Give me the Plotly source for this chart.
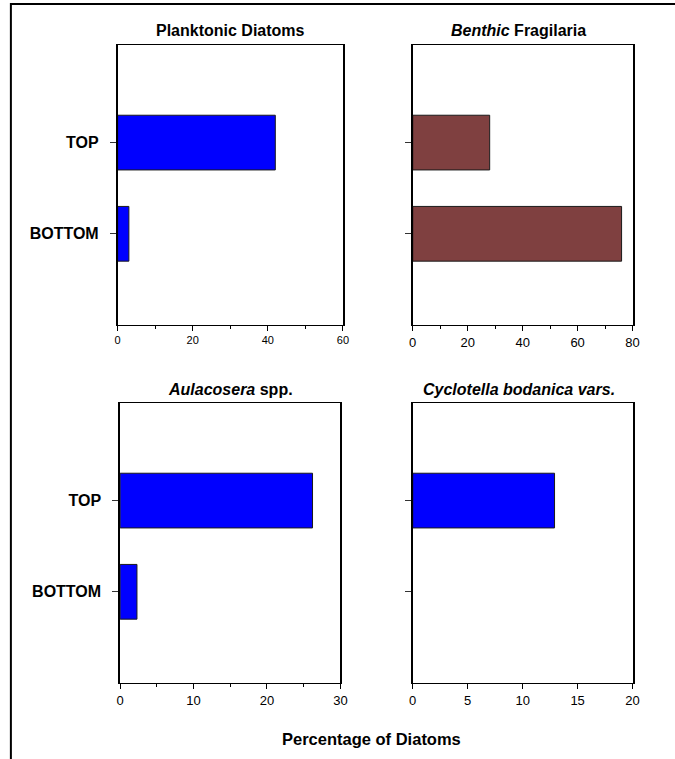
import plotly.graph_objects as go

# Sample depths and diatom percentages per group
depths = ["BOTTOM", "TOP"]
planktonic = [3, 42]
benthic_fragilaria = [76, 28]
aulacosera = [2.3, 26.2]
cyclotella = [0, 12.9]

panel_titles = [
    "Planktonic Diatoms",
    "<i>Benthic</i> Fragilaria",
    "<i>Aulacosera</i> spp.",
    "<i>Cyclotella bodanica vars.</i>",
]
x_ranges = [[0, 60], [0, 80], [0, 30], [0, 20]]
x_dticks = [20, 20, 10, 5]
x_minor = [10, 10, 5, None]
x_axis_title = "Percentage of Diatoms"

FONT = "Liberation Sans, Arial, sans-serif"
W, H = 675, 759

series = [planktonic, benthic_fragilaria, aulacosera, cyclotella]
colors = ["#0000FF", "#7F4040", "#0000FF", "#0000FF"]

# Panel boxes in pixels: (left, right, top, bottom)
boxes = [
    (115.5, 344.5, 45, 325),
    (415.5, 639.0, 45, 325),
    (118.0, 342.0, 403, 683),
    (415.5, 639.0, 403, 683),
]

fig = go.Figure()

for i, (vals, col) in enumerate(zip(series, colors)):
    n = i + 1
    xa = "x" if n == 1 else f"x{n}"
    ya = "y" if n == 1 else f"y{n}"
    # no outline on empty bars so a zero value leaves no sliver
    outline_w = [1 if v > 0 else 0 for v in vals]
    fig.add_trace(go.Bar(
        x=vals, y=depths, orientation="h", width=0.6,
        marker=dict(color=col, line=dict(color="#1a1a1a", width=outline_w)),
        xaxis=xa, yaxis=ya, showlegend=False, hoverinfo="x+y",
    ))

    l, r, t, b = boxes[i]
    xkey = "xaxis" if n == 1 else f"xaxis{n}"
    ykey = "yaxis" if n == 1 else f"yaxis{n}"
    tick_size = 11 if i == 0 else 13
    minor = dict(dtick=x_minor[i], ticks="outside", ticklen=3,
                 tickcolor="#000", tickwidth=1) if x_minor[i] else None
    xax = dict(
        domain=[l / W, r / W], anchor=ya, range=x_ranges[i],
        dtick=x_dticks[i], tick0=0, ticks="outside", ticklen=5,
        tickcolor="#000", tickwidth=1,
        showline=True, linecolor="#000", linewidth=1, mirror=True,
        showgrid=False, zeroline=False,
        tickfont=dict(family=FONT, size=tick_size, color="#000"),
    )
    if minor:
        xax["minor"] = minor
    fig.layout[xkey] = xax
    fig.layout[ykey] = dict(
        domain=[1 - b / H, 1 - t / H], anchor=xa,
        type="category", categoryorder="array", categoryarray=depths,
        range=[-1.0, 2.07],
        ticks="outside", ticklen=6, tickcolor="#333", tickwidth=1,
        showticklabels=(i % 2 == 0),
        showline=True, linecolor="#000", linewidth=1.5, mirror=True,
        showgrid=False, zeroline=False,
        tickfont=dict(family=FONT, size=16, color="#000", weight="bold"),
        ticklabelstandoff=8,
    )

    fig.add_annotation(
        x=(l + r) / 2 / W - (0.006 if i % 2 else 0), y=1 - (t - 14) / H,
        xref="paper", yref="paper", xanchor="center", yanchor="middle",
        text=f"<b>{panel_titles[i]}</b>", showarrow=False,
        font=dict(family=FONT, size=16, color="#000"),
    )

fig.add_annotation(
    x=374 / W, y=1 - 739 / H, xref="paper", yref="paper",
    xanchor="center", yanchor="middle", text=f"<b>{x_axis_title}</b>",
    showarrow=False, font=dict(family=FONT, size=16.5, color="#000"),
)

# Outer frame around the whole figure
fig.add_shape(type="rect", xref="paper", yref="paper",
              x0=7 / W, x1=1.05, y0=-0.05, y1=1 - 4 / H,
              line=dict(color="#000", width=2), fillcolor="rgba(0,0,0,0)")

fig.update_layout(
    width=W, height=H, margin=dict(l=0, r=0, t=0, b=0),
    paper_bgcolor="white", plot_bgcolor="white",
    bargap=0.4,
)

fig.write_html("out.html")
